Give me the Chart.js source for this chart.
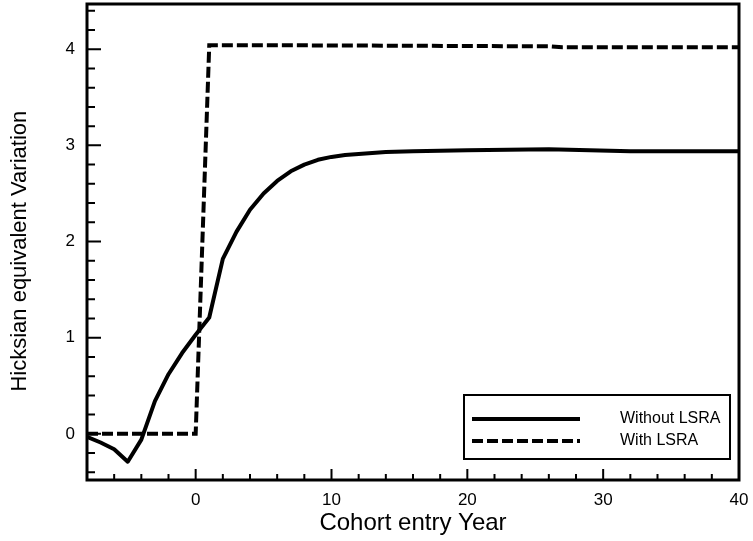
<!DOCTYPE html>
<html>
<head>
<meta charset="utf-8">
<script src="https://cdn.jsdelivr.net/npm/chart.js@4.4.0/dist/chart.umd.min.js"></script>
<style>
body { margin: 0; background: #fff; }
#wrap { width: 753px; height: 541px; }
</style>
</head>
<body>
<div id="wrap"><canvas id="myChart"></canvas></div>
<script>
// Without LSRA
var years = [-8, -7, -6, -5, -4, -3, -2, -1, 0, 1, 2, 3, 4, 5, 6, 7, 8, 9, 10, 11, 12, 14, 16, 20, 26, 32, 40];
var withoutLSRA = [-0.03, -0.09, -0.16, -0.29, -0.06, 0.34, 0.62, 0.84, 1.03, 1.21, 1.82, 2.1, 2.33, 2.5, 2.63, 2.73, 2.8, 2.85, 2.88, 2.9, 2.91, 2.93, 2.94, 2.95, 2.96, 2.94, 2.94];
// With LSRA
var withYears = [-8, 0, 1, 8, 26, 27, 40];
var withLSRA = [0, 0, 4.04, 4.04, 4.03, 4.02, 4.02];
// axis ticks
var xTicks = [0, 10, 20, 30, 40];
var yTicks = [0, 1, 2, 3, 4];

var fontFam = "'Liberation Sans', Arial, sans-serif";

function pts(xs, ys) {
  return xs.map(function (x, i) { return { x: x, y: ys[i] }; });
}

var framePlugin = {
  id: 'frame',
  afterDraw: function (chart) {
    var c = chart.ctx, a = chart.chartArea;
    var xs = chart.scales.x, ys = chart.scales.y;
    c.save();
    c.strokeStyle = '#000';
    c.lineWidth = 2;
    c.beginPath();
    // x tick marks, inward
    for (var v = -8; v <= 40; v += 2) {
      var px = xs.getPixelForValue(v);
      var len = (v % 10 === 0) ? 11 : 6;
      c.moveTo(px, a.bottom);
      c.lineTo(px, a.bottom - len);
    }
    // y tick marks, inward
    for (var i = -2; i <= 22; i++) {
      var py = ys.getPixelForValue(i * 0.2);
      var l = (i % 5 === 0) ? 14 : 8;
      c.moveTo(a.left, py);
      c.lineTo(a.left + l, py);
    }
    c.stroke();
    c.lineWidth = 3;
    c.strokeRect(a.left, a.top, a.right - a.left, a.bottom - a.top);

    // legend box
    var bx2 = a.right - 9, by2 = a.bottom - 21;
    var bx1 = bx2 - 266, by1 = by2 - 64;
    c.lineWidth = 2;
    c.strokeRect(bx1, by1, bx2 - bx1, by2 - by1);
    c.font = '16px ' + fontFam;
    c.fillStyle = '#000';
    c.textBaseline = 'middle';
    c.textAlign = 'left';
    chart.data.datasets.forEach(function (ds, k) {
      var y = by1 + 24 + k * 22;
      c.save();
      c.lineWidth = ds.borderWidth;
      c.setLineDash(ds.borderDash || []);
      c.beginPath();
      c.moveTo(bx1 + 8, y);
      c.lineTo(bx1 + 116, y);
      c.stroke();
      c.restore();
      c.fillText(ds.label, bx1 + 156, y);
    });
    c.restore();
  }
};

var ctx = document.getElementById('myChart').getContext('2d');
var myChart = new Chart(ctx, {
  type: 'line',
  data: {
    datasets: [{
      label: 'Without LSRA',
      data: pts(years, withoutLSRA),
      borderColor: '#000',
      borderWidth: 4,
      borderJoinStyle: 'round',
      pointRadius: 0,
      tension: 0,
      fill: false
    }, {
      label: 'With LSRA',
      data: pts(withYears, withLSRA),
      borderColor: '#000',
      borderWidth: 4,
      borderDash: [11, 4],
      pointRadius: 0,
      tension: 0,
      fill: false
    }]
  },
  options: {
    responsive: true,
    maintainAspectRatio: false,
    animation: false,
    layout: { padding: { top: 4, right: 14, left: 0, bottom: 0 } },
    plugins: {
      legend: { display: false },
      tooltip: { enabled: false }
    },
    scales: {
      x: {
        type: 'linear',
        min: -8,
        max: 40,
        afterBuildTicks: function (s) { s.ticks = xTicks.map(function (v) { return { value: v }; }); },
        afterFit: function (s) { s.height = 61; s.paddingLeft = 0; s.paddingRight = 0; },
        grid: { display: false, drawTicks: false, tickLength: 0 },
        border: { display: false },
        ticks: { color: '#000', padding: 10, maxRotation: 0, font: { size: 17, family: fontFam } },
        title: {
          display: true,
          text: 'Cohort entry Year',
          color: '#000',
          padding: { top: 0, bottom: 3 },
          font: { size: 24, family: fontFam }
        }
      },
      y: {
        type: 'linear',
        min: -0.48,
        max: 4.47,
        afterBuildTicks: function (s) { s.ticks = yTicks.map(function (v) { return { value: v }; }); },
        afterFit: function (s) { s.width = 87; s.paddingTop = 0; s.paddingBottom = 0; },
        grid: { display: false, drawTicks: false, tickLength: 0 },
        border: { display: false },
        ticks: { color: '#000', padding: 12, font: { size: 17, family: fontFam } },
        title: {
          display: true,
          text: 'Hicksian equivalent Variation   ',
          color: '#000',
          padding: { top: 7, bottom: 0 },
          font: { size: 22, family: fontFam }
        }
      }
    }
  },
  plugins: [framePlugin]
});
</script>
</body>
</html>
